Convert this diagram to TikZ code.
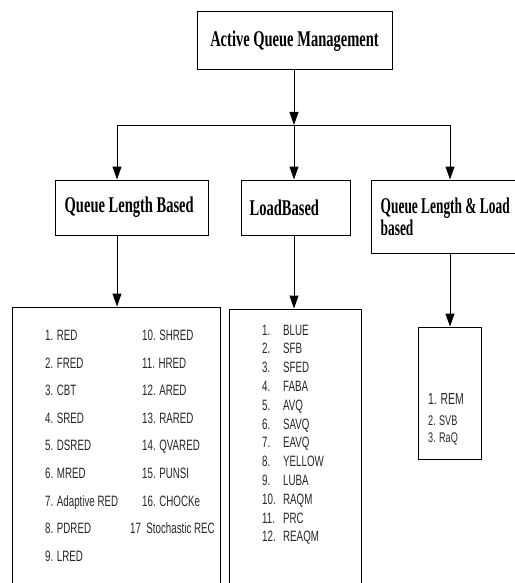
\documentclass[tikz,border=0pt]{standalone}
\usepackage{fontspec}
\newfontfamily\headfont[FakeStretch=0.645]{Liberation Serif}
\newfontfamily\headnarrow[FakeStretch=0.595]{Liberation Serif}
\newfontfamily\listfont[FakeStretch=0.65]{Liberation Sans}
\usetikzlibrary{positioning,arrows.meta}

\begin{document}
\begin{tikzpicture}[
x=1pt,y=-1pt,
box/.style={
rectangle,draw,line width=1pt,
inner sep=0pt
},
head/.style={font=\headfont\bfseries\fontsize{22.5}{22}\selectfont,inner sep=0pt},
item/.style={anchor=base west,inner sep=0pt,text=black!85,
font=\listfont\fontsize{15}{15}\selectfont},
arrow/.style={-{Triangle[length=13pt,width=9pt]},line width=1pt}
]

\useasboundingbox (0,0) rectangle (514,583);

\node[box,head,minimum width=195,minimum height=58] (aqm) at (294.5,41) {Active Queue Management};

\node[box,minimum width=153,minimum height=55] (qlb) at (131.5,207.5) {};
\node[box,minimum width=109,minimum height=55] (lb) at (295.5,207.5) {};
\node[box,minimum width=164,minimum height=73] (qllb) at (453,216.5) {};

\node[head,anchor=west] (qlbtext) at ([xshift=10pt]qlb.west) {Queue Length Based};
\node[head,anchor=west] (lbtext) at ([xshift=9pt]lb.west) {LoadBased};
\node[head,anchor=west,align=left,font=\headnarrow\bfseries\fontsize{22.5}{22}\selectfont] (qllbtext) at ([xshift=10pt]qllb.west) {Queue Length \& Load\\based};

\node[box,minimum width=208,minimum height=300] (qrlist) at (116,457) {};
\node[box,minimum width=132,minimum height=300] (lblist) at (295,459) {};
\node[box,minimum width=63,minimum height=132] (mixlist) at (449.5,393) {};

\coordinate (colA) at (117,125);
\coordinate (colB) at (294,125);
\coordinate (colC) at (450,125);

\draw[arrow] (aqm.south -| colB) -- (colB);
\draw[line width=1pt] (colA) -- (colC);
\draw[arrow] (colA) -- (colA |- qlb.north);
\draw[arrow] (colB) -- (colB |- lb.north);
\draw[arrow] (colC) -- (colC |- qllb.north);

\draw[arrow] (colA |- qlb.south) -- (colA |- qrlist.north);
\draw[arrow] (colB |- lb.south) -- (colB |- lblist.north);
\draw[arrow] (colC |- qllb.south) -- (colC |- mixlist.north);

\foreach \name [count=\i] in {1. RED,2. FRED,3. CBT,4. SRED,5. DSRED,6. MRED,7. Adaptive RED,8. PDRED,9. LRED}
  \node[item] (qa\i) at (45,{340.5+27.6*(\i-1)}) {\name};
\foreach \name [count=\i] in {10. SHRED,11. HRED,12. ARED,13. RARED,14. QVARED,15. PUNSI,16. CHOCKe}
  \node[item] (qb\i) at (142,{340.5+27.6*(\i-1)}) {\name};
\node[item] (qb17) at (130,{340.5+27.6*7}) {17\ \ Stochastic REC};

\foreach \name [count=\i] in {BLUE,SFB,SFED,FABA,AVQ,SAVQ,EAVQ,YELLOW,LUBA,RAQM,PRC,REAQM} {
  \node[item] (ln\i) at (262,{335+18.8*(\i-1)}) {\i.};
  \node[item] (lt\i) at (283,{335+18.8*(\i-1)}) {\name};
}

\node[item,font=\listfont\fontsize{16}{16}\selectfont] (mx1) at (428,404) {1. REM};
\node[item,font=\listfont\fontsize{14}{14}\selectfont] (mx2) at (428,425) {2. SVB};
\node[item,font=\listfont\fontsize{14}{14}\selectfont] (mx3) at (428,442) {3. RaQ};

\end{tikzpicture}
\end{document}
